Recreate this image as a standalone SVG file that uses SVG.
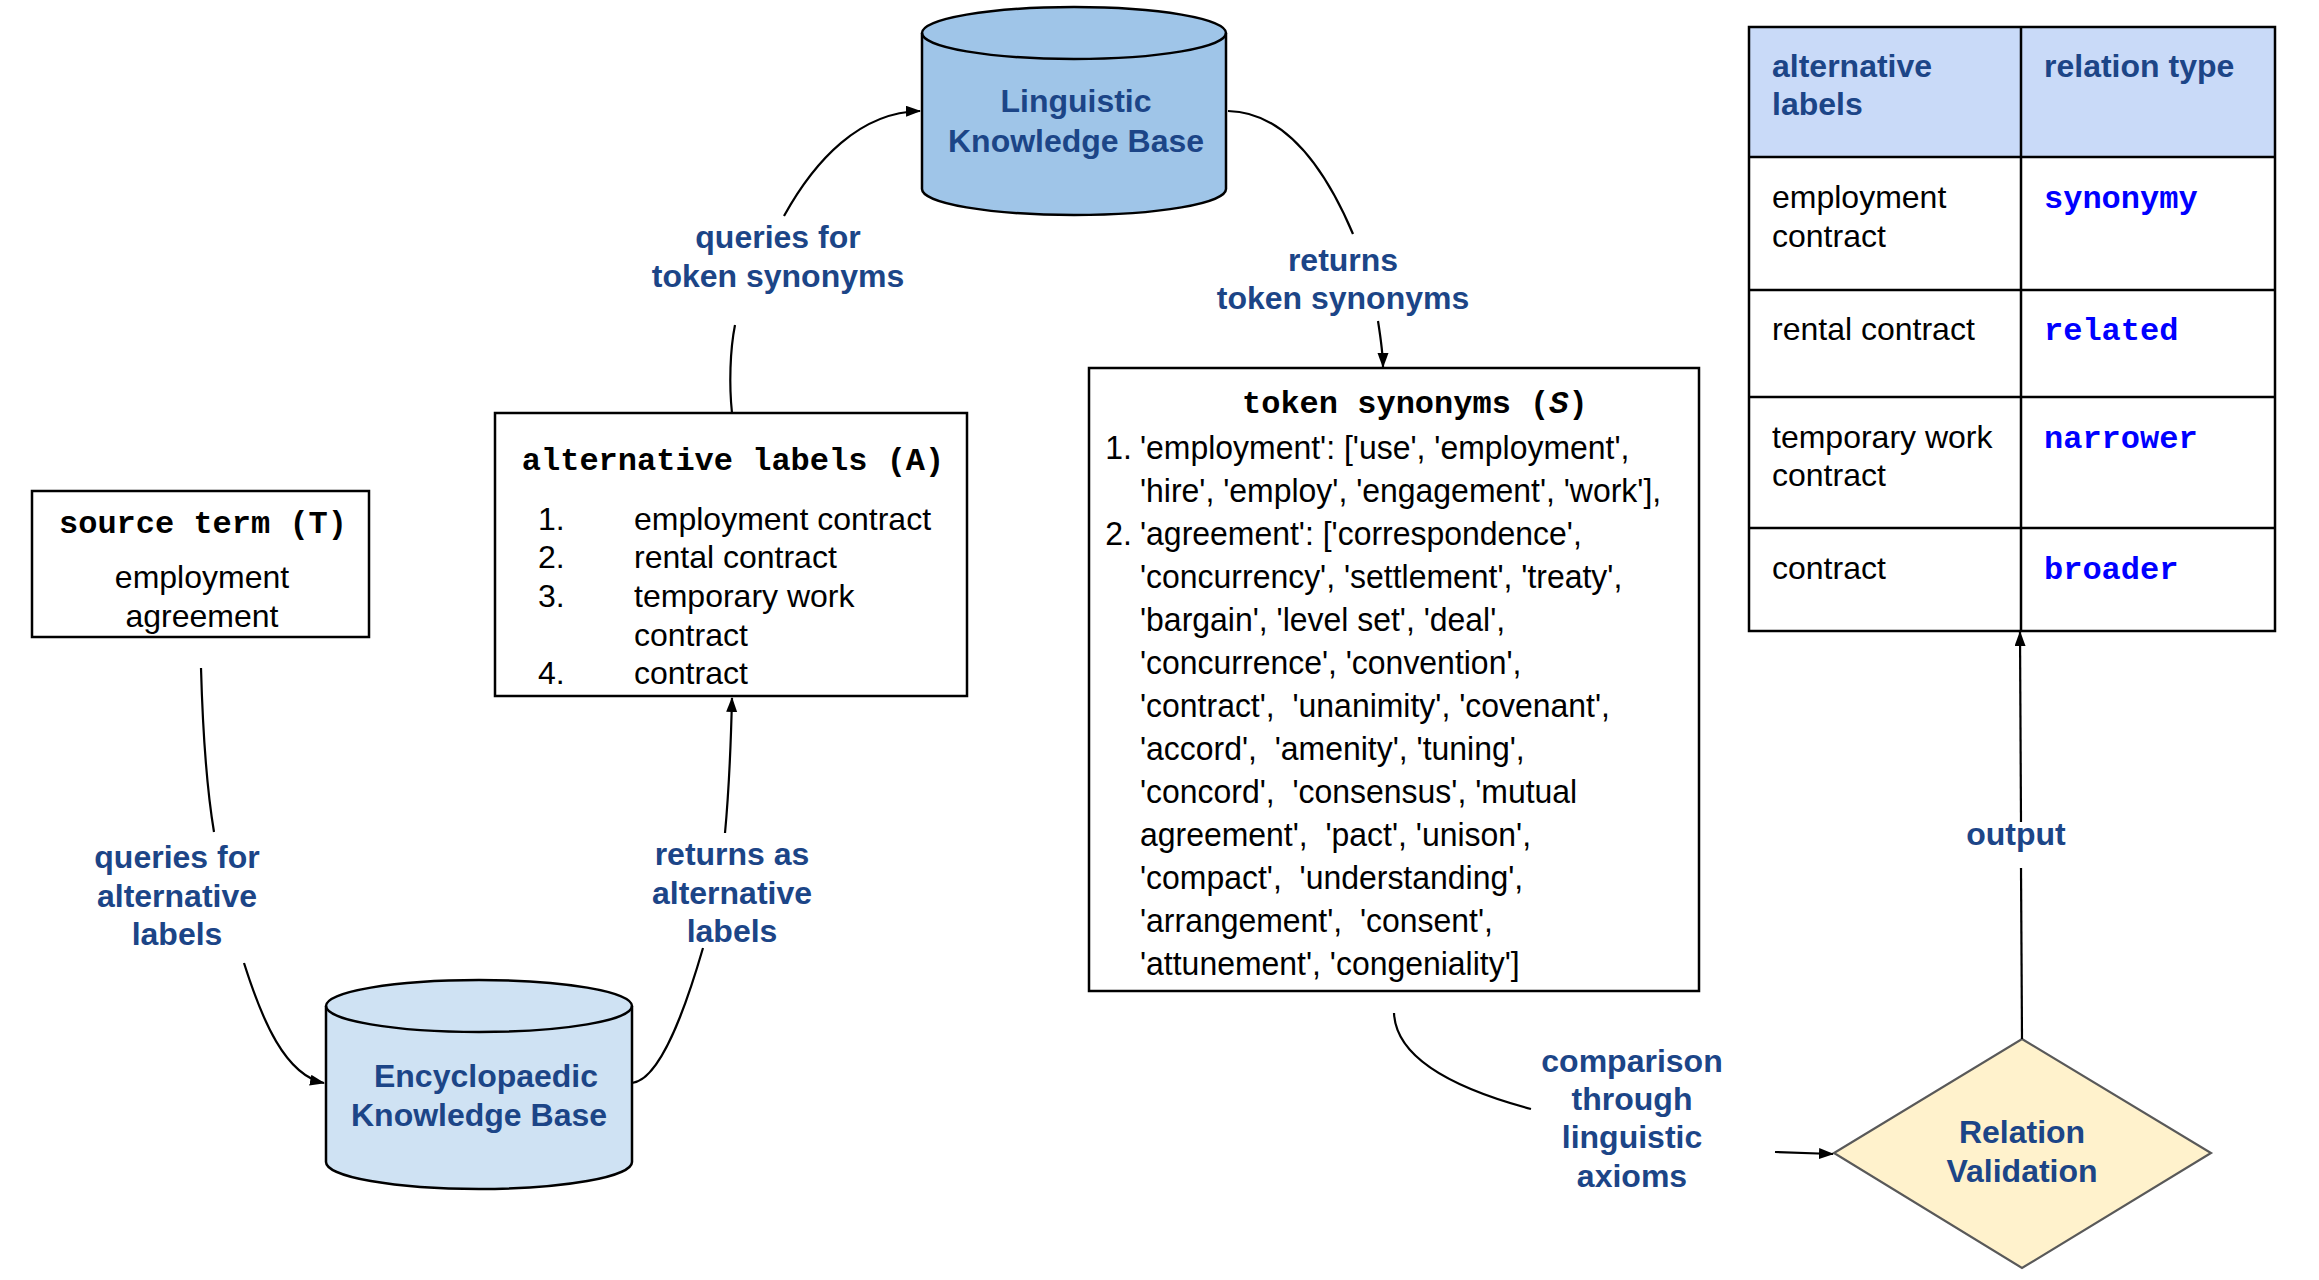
<svg xmlns="http://www.w3.org/2000/svg" width="2319" height="1280" viewBox="0 0 2319 1280">
<defs>
<marker id="arr" markerUnits="userSpaceOnUse" markerWidth="16" markerHeight="12" refX="14" refY="5.5" orient="auto"><path d="M0,0 L15,5.5 L0,11 z" fill="#000"/></marker>
<style>
.box{fill:#fff;stroke:#000;stroke-width:2.5}
.cyl{stroke:#000;stroke-width:2.5}
.mono{font-family:"Liberation Mono","Courier New",monospace;font-weight:bold;font-size:32px;fill:#000}
.txt{font-family:"Liberation Sans",Arial,sans-serif;font-size:32px;fill:#000}
.syn{font-family:"Liberation Sans",Arial,sans-serif;font-size:34px;fill:#000;white-space:pre}
.lbl{font-family:"Liberation Sans",Arial,sans-serif;font-size:32px;font-weight:bold;fill:#1c4587;text-anchor:middle}
.th{font-family:"Liberation Sans",Arial,sans-serif;font-size:32px;font-weight:bold;fill:#1c4587}
.rel{font-family:"Liberation Mono","Courier New",monospace;font-weight:bold;font-size:32px;fill:#0000ff}
.con{fill:none;stroke:#000;stroke-width:2.2}
.grid{stroke:#000;stroke-width:2.5;fill:none}
</style>
</defs>
<rect width="2319" height="1280" fill="#fff"/>

<g id="source-term">
<rect class="box" x="32" y="491" width="337" height="146"/>
<text class="mono" x="203" y="533" text-anchor="middle" font-size="31">source term (T)</text>
<text class="txt" x="202" y="588" text-anchor="middle">employment</text>
<text class="txt" x="202" y="627" text-anchor="middle">agreement</text>
</g>

<g id="alternative-labels">
<rect class="box" x="495" y="413" width="472" height="283"/>
<text class="mono" x="733" y="470" text-anchor="middle">alternative labels (A)</text>
<text class="txt" x="538" y="530">1.</text><text class="txt" x="634" y="530">employment contract</text>
<text class="txt" x="538" y="568">2.</text><text class="txt" x="634" y="568">rental contract</text>
<text class="txt" x="538" y="607">3.</text><text class="txt" x="634" y="607">temporary work</text>
<text class="txt" x="634" y="646">contract</text>
<text class="txt" x="538" y="684">4.</text><text class="txt" x="634" y="684">contract</text>
</g>

<g id="linguistic-kb">
<path class="cyl" fill="#9fc5e8" d="M922,33 L922,189 A152,26 0 0 0 1226,189 L1226,33 A152,26 0 0 0 922,33 z"/>
<path class="cyl" fill="none" d="M922,33 A152,26 0 0 0 1226,33"/>
<text class="lbl" x="1076" y="112">Linguistic</text>
<text class="lbl" x="1076" y="152">Knowledge Base</text>
</g>

<g id="encyclopaedic-kb">
<path class="cyl" fill="#cfe2f3" d="M326,1006 L326,1162 A153,27 0 0 0 632,1162 L632,1006 A153,26 0 0 0 326,1006 z"/>
<path class="cyl" fill="none" d="M326,1006 A153,26 0 0 0 632,1006"/>
<text class="lbl" x="486" y="1087">Encyclopaedic</text>
<text class="lbl" x="479" y="1126">Knowledge Base</text>
</g>

<g id="token-synonyms">
<rect class="box" x="1089" y="368" width="610" height="623"/>
<text class="mono" x="1242" y="413">token synonyms (<tspan font-style="italic">S</tspan>)</text>
<g transform="translate(1140,0) scale(0.94,1) translate(-1140,0)">
<text class="syn" x="1103" y="459">1.</text>
<text class="syn" x="1140" y="459">'employment': ['use', 'employment',</text>
<text class="syn" x="1140" y="502">'hire', 'employ', 'engagement', 'work'],</text>
<text class="syn" x="1103" y="545">2.</text>
<text class="syn" x="1140" y="545">'agreement': ['correspondence',</text>
<text class="syn" x="1140" y="588">'concurrency', 'settlement', 'treaty',</text>
<text class="syn" x="1140" y="631">'bargain', 'level set', 'deal',</text>
<text class="syn" x="1140" y="674">'concurrence', 'convention',</text>
<text class="syn" x="1140" y="717">'contract',  'unanimity', 'covenant',</text>
<text class="syn" x="1140" y="760">'accord',  'amenity', 'tuning',</text>
<text class="syn" x="1140" y="803">'concord',  'consensus', 'mutual</text>
<text class="syn" x="1140" y="846">agreement',  'pact', 'unison',</text>
<text class="syn" x="1140" y="889">'compact',  'understanding',</text>
<text class="syn" x="1140" y="932">'arrangement',  'consent',</text>
<text class="syn" x="1140" y="975">'attunement', 'congeniality']</text>
</g>
</g>

<g id="relation-table">
<rect x="1749" y="27" width="526" height="130" fill="#c9daf8"/>
<rect class="grid" x="1749" y="27" width="526" height="604"/>
<line class="grid" x1="2021" y1="27" x2="2021" y2="631"/>
<line class="grid" x1="1749" y1="157" x2="2275" y2="157"/>
<line class="grid" x1="1749" y1="290" x2="2275" y2="290"/>
<line class="grid" x1="1749" y1="397" x2="2275" y2="397"/>
<line class="grid" x1="1749" y1="528" x2="2275" y2="528"/>
<text class="th" x="1772" y="77">alternative</text>
<text class="th" x="1772" y="115">labels</text>
<text class="th" x="2044" y="77">relation type</text>
<text class="txt" x="1772" y="208">employment</text>
<text class="txt" x="1772" y="247">contract</text>
<text class="rel" x="2044" y="208">synonymy</text>
<text class="txt" x="1772" y="340">rental contract</text>
<text class="rel" x="2044" y="340">related</text>
<text class="txt" x="1772" y="448">temporary work</text>
<text class="txt" x="1772" y="486">contract</text>
<text class="rel" x="2044" y="448">narrower</text>
<text class="txt" x="1772" y="579">contract</text>
<text class="rel" x="2044" y="579">broader</text>
</g>

<g id="relation-validation">
<polygon points="2022,1039 2211,1153 2022,1268 1834,1153" fill="#fff2cc" stroke="#595959" stroke-width="2.2"/>
<text class="lbl" x="2022" y="1143">Relation</text>
<text class="lbl" x="2022" y="1182">Validation</text>
</g>

<g id="connectors">
<path class="con" d="M201,668 C203,740 207,790 214,832"/>
<path class="con" marker-end="url(#arr)" d="M244,963 C262,1020 285,1075 324,1083"/>
<path class="con" d="M632,1083 C660,1080 685,1010 703,948"/>
<path class="con" marker-end="url(#arr)" d="M725,833 C729,790 731,740 732,698"/>
<path class="con" d="M732,413 C729,385 730,350 735,325"/>
<path class="con" marker-end="url(#arr)" d="M784,216 C815,160 860,112 920,111"/>
<path class="con" d="M1228,111 C1290,112 1330,180 1353,234"/>
<path class="con" marker-end="url(#arr)" d="M1378,321 C1381,340 1383,355 1383,367"/>
<path class="con" d="M1394,1013 C1396,1060 1460,1090 1531,1109"/>
<path class="con" marker-end="url(#arr)" d="M1775,1152 L1833,1154"/>
<path class="con" d="M2022,1039 L2021,868"/>
<path class="con" marker-end="url(#arr)" d="M2021,822 L2020,632"/>
<text class="lbl" x="778" y="248">queries for</text>
<text class="lbl" x="778" y="287">token synonyms</text>
<text class="lbl" x="1343" y="271">returns</text>
<text class="lbl" x="1343" y="309">token synonyms</text>
<text class="lbl" x="177" y="868">queries for</text>
<text class="lbl" x="177" y="907">alternative</text>
<text class="lbl" x="177" y="945">labels</text>
<text class="lbl" x="732" y="865">returns as</text>
<text class="lbl" x="732" y="904">alternative</text>
<text class="lbl" x="732" y="942">labels</text>
<text class="lbl" x="2016" y="845">output</text>
<text class="lbl" x="1632" y="1072">comparison</text>
<text class="lbl" x="1632" y="1110">through</text>
<text class="lbl" x="1632" y="1148">linguistic</text>
<text class="lbl" x="1632" y="1187">axioms</text>
</g>
</svg>
